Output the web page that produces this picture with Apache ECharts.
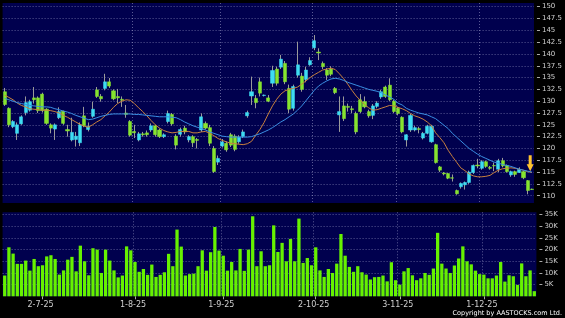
<!DOCTYPE html>
<html><head><meta charset="utf-8">
<style>html,body{margin:0;padding:0;background:#000;}#c{width:565px;height:318px;}</style>
<script src="https://cdn.jsdelivr.net/npm/echarts@6/dist/echarts.min.js"></script>
</head><body><div id="c"></div>
<script>
const dates = ['18-6-25','19-6-25','20-6-25','23-6-25','24-6-25','25-6-25','26-6-25','27-6-25','30-6-25',
'2-7-25','3-7-25','4-7-25','7-7-25','8-7-25','9-7-25','10-7-25','11-7-25','14-7-25','15-7-25','16-7-25','17-7-25','18-7-25','21-7-25','22-7-25','23-7-25','24-7-25','25-7-25','28-7-25','29-7-25','30-7-25','31-7-25',
'1-8-25','4-8-25','5-8-25','6-8-25','7-8-25','8-8-25','11-8-25','12-8-25','13-8-25','14-8-25','15-8-25','18-8-25','19-8-25','20-8-25','21-8-25','22-8-25','25-8-25','26-8-25','27-8-25','28-8-25','29-8-25',
'1-9-25','2-9-25','3-9-25','4-9-25','5-9-25','8-9-25','9-9-25','10-9-25','11-9-25','12-9-25','15-9-25','16-9-25','17-9-25','18-9-25','19-9-25','22-9-25','23-9-25','24-9-25','25-9-25','26-9-25','29-9-25','30-9-25',
'2-10-25','3-10-25','6-10-25','8-10-25','9-10-25','10-10-25','13-10-25','14-10-25','15-10-25','16-10-25','17-10-25','20-10-25','21-10-25','22-10-25','23-10-25','24-10-25','27-10-25','28-10-25','30-10-25','31-10-25',
'3-11-25','4-11-25','5-11-25','6-11-25','7-11-25','10-11-25','11-11-25','12-11-25','13-11-25','14-11-25','17-11-25','18-11-25','19-11-25','20-11-25','21-11-25','24-11-25','25-11-25','26-11-25','27-11-25','28-11-25',
'1-12-25','2-12-25','3-12-25','4-12-25','5-12-25','8-12-25','9-12-25','10-12-25','11-12-25','12-12-25','15-12-25','16-12-25','17-12-25'];

const tickLabels = ['2-7-25','1-8-25','1-9-25','2-10-25','3-11-25','1-12-25'];

const open = [132.0,128.5,124.6,123.2,125.2,127.6,128.1,130.7,130.7,131.5,
128.3,125.0,124.1,126.5,127.9,124.0,121.8,121.9,121.2,126.9,
124.0,126.8,132.4,131.0,132.7,134.1,132.2,131.0,130.4,127.5,
125.7,123.6,121.8,123.1,123.3,123.9,124.8,123.9,122.5,125.7,
127.2,122.6,123.0,124.3,121.8,122.5,121.9,123.9,125.3,124.4,
120.0,117.1,120.5,121.1,122.9,122.6,121.4,122.5,126.9,131.1,
130.6,134.1,131.2,130.7,133.8,136.8,137.2,138.0,132.7,128.5,
135.5,135.3,134.6,137.7,141.3,140.4,138.0,136.6,136.8,132.7,
127.1,129.0,128.9,128.4,127.4,130.3,129.9,127.8,127.0,128.9,
130.9,133.0,133.4,130.0,128.5,126.6,121.8,123.9,123.9,124.2,
122.2,123.2,121.4,120.8,116.1,114.8,114.7,113.8,111.1,111.9,
112.3,112.8,114.9,116.5,115.8,117.2,116.0,116.4,115.6,117.4,
116.4,114.4,115.1,114.9,115.1,113.2,111.4];

const close = [129.3,125.0,125.7,125.0,126.7,129.7,129.9,130.3,128.0,128.0,
125.3,124.3,125.0,127.8,125.3,123.7,123.4,122.6,125.0,124.8,
124.6,128.3,131.0,130.5,134.1,133.2,130.5,130.7,130.2,127.2,
122.8,123.3,123.1,122.9,122.9,124.8,122.9,122.5,122.9,127.4,
125.2,120.7,124.0,123.5,122.5,121.2,121.7,126.7,124.3,121.1,
115.1,117.9,121.4,119.7,120.7,119.8,122.4,123.5,127.6,132.0,
129.7,131.7,131.3,130.0,136.5,133.8,138.9,134.1,128.3,133.1,
137.7,132.5,136.6,138.6,142.8,140.2,137.3,135.5,135.7,131.8,
127.8,126.3,128.7,128.2,123.5,127.8,128.8,126.9,129.0,129.6,
132.0,131.0,130.3,127.8,127.4,123.5,122.9,127.0,124.4,124.0,
123.2,124.7,124.7,117.0,115.4,114.6,113.7,113.7,110.4,112.6,
112.8,115.0,116.4,116.3,117.2,116.2,115.8,116.3,117.4,116.3,
115.1,115.1,114.5,115.6,113.8,111.1,111.3];

const low = [129.0,124.5,124.3,121.8,125.0,127.0,127.8,129.5,127.5,127.6,
125.0,123.2,121.8,126.2,125.0,122.5,121.5,120.4,120.5,124.5,
123.6,126.5,130.7,129.9,132.3,132.8,130.2,129.6,128.8,126.5,
122.5,122.2,121.5,122.5,122.5,123.5,122.5,122.2,122.2,125.3,
124.8,119.8,122.5,123.0,121.3,120.3,120.0,123.5,124.0,120.5,
114.8,116.5,120.2,119.3,120.3,119.4,121.0,122.2,126.5,129.2,
128.5,131.0,131.0,129.8,133.0,133.3,136.8,133.6,127.5,128.0,
135.0,132.0,134.0,137.5,140.8,138.7,136.8,134.5,135.3,131.5,
123.5,125.8,127.8,127.5,123.0,127.5,128.5,126.5,126.2,128.5,
130.5,130.7,130.0,127.5,127.0,123.2,120.4,123.5,123.6,123.2,
121.9,123.0,121.2,116.8,115.0,114.3,113.5,113.0,110.2,111.5,
111.3,112.5,114.6,115.8,115.5,115.9,115.5,115.2,115.0,116.0,
114.9,114.0,114.0,114.8,113.5,110.3,111.2];

const high = [132.8,128.7,126.0,125.5,127.0,131.0,130.3,133.0,131.0,131.8,
128.5,125.3,125.3,128.7,128.0,125.0,126.5,123.5,125.5,128.8,
125.5,129.9,133.0,131.5,135.8,134.9,132.5,132.6,131.0,129.2,
126.0,125.0,123.5,123.5,123.8,125.3,125.0,124.2,123.2,128.0,
127.5,123.0,124.4,124.8,122.8,122.8,122.2,127.4,125.7,125.0,
120.5,118.5,122.0,121.5,123.3,123.0,122.8,124.0,128.0,135.2,
131.3,135.0,131.4,131.3,137.5,137.3,139.8,138.5,133.5,133.5,
142.6,136.0,137.3,139.3,144.0,141.2,138.4,137.0,137.4,133.0,
131.0,131.0,129.5,129.0,127.8,131.5,131.0,128.2,129.4,130.0,
132.4,133.3,134.85,130.3,128.8,126.8,123.0,127.3,124.8,124.6,
123.5,125.0,125.0,121.0,116.3,115.0,114.8,114.5,111.3,112.8,
113.0,115.3,116.6,117.8,117.5,117.4,116.3,117.0,117.8,118.0,
116.6,115.3,115.3,116.0,115.3,113.3,111.5];

const maFast = [131.3,130.8,130.3,129.6,129.1,128.8,128.4,128.3,128.2,128.1,
128.1,128.0,127.8,127.5,127.0,126.6,126.1,125.6,125.1,124.7,
124.5,125.0,125.6,126.1,126.9,127.7,128.7,129.5,130.0,130.3,
130.2,129.5,128.6,127.8,126.9,125.9,125.0,124.3,123.8,123.5,
123.3,123.4,123.6,123.6,123.6,123.3,123.3,123.5,123.6,123.2,
122.7,122.1,121.7,121.4,121.1,121.0,120.9,120.8,121.0,121.5,
122.8,124.0,125.5,127.3,129.0,130.4,131.5,132.2,132.5,132.7,
133.0,133.6,134.3,135.0,135.6,136.1,136.6,136.8,137.0,136.7,
135.8,134.8,133.6,132.3,131.1,130.2,129.3,128.6,128.1,128.2,
128.5,128.8,129.1,129.0,128.7,128.4,128.0,127.4,126.9,126.6,
126.2,125.6,124.8,123.3,122.3,121.2,119.6,118.3,117.1,115.9,
115.3,114.6,114.2,114.0,114.0,114.1,114.3,114.9,115.4,115.7,
115.8,115.9,115.8,115.6,115.4,115.1,114.9];

const maSlow = [130.6,130.3,130.0,129.7,129.5,129.3,129.1,129.0,128.9,128.8,
128.8,128.7,128.4,128.2,127.9,127.7,127.4,127.0,126.7,126.4,
126.1,126.2,126.5,126.8,127.0,127.2,127.3,127.3,127.3,127.3,
127.3,127.2,127.2,127.1,127.0,126.9,126.8,126.7,126.7,126.7,
126.6,126.5,126.1,125.6,125.2,124.8,124.5,124.2,123.9,123.5,
123.2,122.9,122.6,122.5,122.4,122.4,122.4,122.4,122.4,122.5,
122.8,123.1,123.5,123.9,124.4,125.0,125.6,126.1,126.7,127.3,
128.1,129.0,130.1,131.2,132.3,133.2,133.8,134.3,134.7,134.85,
134.7,134.4,134.0,133.7,133.4,133.1,132.8,132.5,132.3,132.1,
131.8,131.3,130.9,130.4,129.6,129.2,128.5,128.1,127.8,127.5,
127.3,127.1,126.7,126.3,125.6,124.9,124.2,123.2,122.4,121.6,
120.8,120.0,119.4,118.8,118.3,117.9,117.5,117.1,116.9,116.6,
116.4,116.2,115.9,115.6,115.4,115.2,115.0];

const volumeK = [8.9,21.0,18.3,13.9,13.9,15.3,11.0,16.0,12.9,13.3,
17.1,17.6,16.0,9.3,11.1,15.7,16.9,10.7,21.7,15.0,
9.0,20.6,20.0,10.0,20.0,15.3,11.1,8.1,8.9,21.4,
19.7,14.7,10.5,11.7,9.2,13.6,8.3,9.2,10.3,18.2,
12.9,28.6,21.3,8.9,9.5,9.7,12.9,19.7,11.0,18.9,
29.7,19.6,17.4,11.0,14.7,11.1,20.3,10.9,20.0,34.3,
12.9,19.3,12.9,13.3,30.4,19.0,22.9,15.0,24.6,15.0,
33.3,14.3,16.4,13.3,21.0,11.1,8.3,11.7,10.0,14.0,
26.7,17.4,12.6,10.5,12.9,10.3,9.3,7.2,8.2,8.3,
8.9,6.4,14.6,6.9,5.0,10.7,12.1,9.0,6.9,7.7,
10.0,9.2,11.9,27.2,14.0,11.9,10.0,13.2,16.2,21.4,
15.0,13.7,11.0,9.5,9.3,7.7,7.7,8.9,14.7,6.3,
9.0,8.6,4.9,14.1,8.6,11.1,2.2];

const chart = echarts.init(document.getElementById('c'), null, {renderer: 'canvas'});
const isTick = (i, v) => tickLabels.indexOf(v) >= 0;
const gridLine = {color: 'rgba(180,180,220,0.5)', width: 1, type: [1, 2]};
const FONT = 'DejaVu Sans';
const upColor = '#3edcf2', downColor = '#86e42e', wickColor = '#9a9a9a';

const wickData = dates.map((d, i) => [open[i], close[i], low[i], high[i]]);
const bodyData = dates.map((d, i) => [open[i], close[i], Math.min(open[i], close[i]), Math.max(open[i], close[i])]);

chart.setOption({
  animation: false,
  backgroundColor: '#000000',
  title: {
    text: 'Copyright by AASTOCKS.com Ltd.',
    right: 3, bottom: 1, padding: 0,
    textStyle: {color: '#ffffff', fontSize: 6.5, fontWeight: 'normal', fontFamily: FONT}
  },
  grid: [
    {left: 2.6, right: 28.6, top: 3, height: 200, show: true, backgroundColor: '#00004e', borderWidth: 0},
    {left: 2.6, right: 28.6, top: 212.3, height: 84, show: true, backgroundColor: '#00004e', borderWidth: 0}
  ],
  xAxis: [
    {type: 'category', gridIndex: 0, data: dates, boundaryGap: true,
     axisLine: {show: false}, axisTick: {show: false}, axisLabel: {show: false},
     splitLine: {show: true, interval: isTick, showMinLine: false, showMaxLine: false, lineStyle: gridLine}},
    {type: 'category', gridIndex: 1, data: dates, boundaryGap: true,
     axisLine: {show: false},
     axisTick: {show: true, interval: isTick, alignWithLabel: true, length: 3, lineStyle: {color: '#aaaaaa'}},
     axisLabel: {show: true, interval: isTick, color: '#d0d0d0', fontSize: 8, fontFamily: FONT, margin: 5, padding: [0, 4, 0, 0]},
     splitLine: {show: true, interval: isTick, showMinLine: false, showMaxLine: false, lineStyle: gridLine}}
  ],
  yAxis: [
    {type: 'value', gridIndex: 0, position: 'right', offset: 3, min: 108.455, max: 150.78,
     splitNumber: 17, minInterval: 2.5, maxInterval: 2.5, scale: true,
     axisLine: {show: false},
     axisTick: {show: true, length: 3, lineStyle: {color: '#aaaaaa'}},
     axisLabel: {show: true, color: '#d0d0d0', fontSize: 7, fontFamily: FONT, margin: 5,
       showMinLabel: false, showMaxLabel: false,
       formatter: v => (Math.abs(v / 2.5 - Math.round(v / 2.5)) < 1e-6) ? String(Math.round(v * 10) / 10) : ''},
     splitLine: {show: true, showMinLine: false, showMaxLine: false, lineStyle: gridLine}},
    {type: 'value', gridIndex: 1, position: 'right', offset: 3, min: 0, max: 36, interval: 5,
     axisLine: {show: false},
     axisTick: {show: true, length: 3, lineStyle: {color: '#aaaaaa'}},
     axisLabel: {show: true, color: '#d0d0d0', fontSize: 7, fontFamily: FONT, margin: 5,
       showMinLabel: false, showMaxLabel: false,
       formatter: v => (v > 0 && v % 5 === 0) ? v + 'K' : ''},
     splitLine: {show: true, showMinLine: false, showMaxLine: false, lineStyle: gridLine}}
  ],
  series: [
    {name: 'wick', type: 'candlestick', xAxisIndex: 0, yAxisIndex: 0, data: wickData, barWidth: 1,
     itemStyle: {color: wickColor, color0: wickColor, borderColor: wickColor, borderColor0: wickColor, borderColorDoji: wickColor, borderWidth: 1},
     z: 2},
    {name: 'body', type: 'candlestick', xAxisIndex: 0, yAxisIndex: 0, data: bodyData, barWidth: 3.6,
     itemStyle: {color: upColor, color0: downColor, borderColor: upColor, borderColor0: downColor, borderColorDoji: '#dddddd', borderWidth: 0.5},
     z: 3,
     markPoint: {
       symbol: 'path://M2,0 L5,0 L5,9 L7,9 L3.5,16 L0,9 L2,9 Z',
       symbolSize: [7, 16], symbolOffset: [2.5, '-50%'],
       itemStyle: {color: '#ffc42e'}, label: {show: false},
       data: [{coord: [dates[125], maSlow[125]]}]
     }},
    {name: 'MA fast', type: 'line', xAxisIndex: 0, yAxisIndex: 0, data: maFast, symbol: 'none',
     lineStyle: {color: '#c8803e', width: 1}, z: 4},
    {name: 'MA slow', type: 'line', xAxisIndex: 0, yAxisIndex: 0, data: maSlow, symbol: 'none',
     lineStyle: {color: '#3a8ee2', width: 1}, z: 4},
    {name: 'Volume', type: 'bar', xAxisIndex: 1, yAxisIndex: 1, data: volumeK, barWidth: '78%',
     itemStyle: {color: '#66f200'}}
  ]
});
</script>
</body></html>
